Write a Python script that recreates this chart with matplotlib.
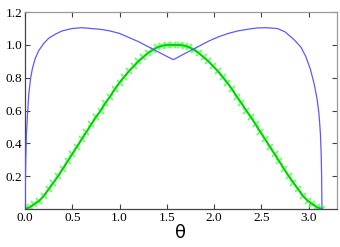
import matplotlib
matplotlib.use("Agg")
import matplotlib.pyplot as plt

# Blue curve
theta_blue = [0.0, 0.008, 0.015, 0.025, 0.04, 0.06, 0.08, 0.11, 0.145, 0.2, 0.25, 0.32, 0.39,
              0.5, 0.6, 0.7, 0.8, 0.9, 1.0, 1.1, 1.2, 1.3, 1.4, 1.5, 1.5708,
              1.65, 1.75, 1.85, 1.95, 2.05, 2.15, 2.25, 2.35, 2.45, 2.55, 2.67, 2.75,
              2.85, 2.92, 2.97, 3.02, 3.06, 3.09, 3.11, 3.125, 3.133, 3.138, 3.1416]
val_blue = [0.0, 0.30, 0.45, 0.56, 0.70, 0.80, 0.86, 0.92, 0.965, 1.01, 1.04, 1.065, 1.085,
            1.10, 1.105, 1.10, 1.095, 1.085, 1.07, 1.045, 1.02, 0.99, 0.96, 0.93, 0.91,
            0.935, 0.965, 0.995, 1.025, 1.05, 1.07, 1.085, 1.095, 1.103, 1.105, 1.10, 1.08,
            1.03, 0.985, 0.93, 0.85, 0.76, 0.67, 0.58, 0.46, 0.34, 0.2, 0.0]

# Green curve with markers
theta_green = [0.00, 0.05, 0.10, 0.15, 0.20, 0.25, 0.30, 0.35, 0.40, 0.45, 0.50, 0.55, 0.60,
               0.65, 0.70, 0.75, 0.80, 0.85, 0.90, 0.95, 1.00, 1.05, 1.10, 1.15, 1.20, 1.25,
               1.30, 1.35, 1.40, 1.45, 1.50, 1.5708,
               1.64, 1.69, 1.74, 1.79, 1.84, 1.89, 1.94, 1.99, 2.04, 2.09, 2.14, 2.19, 2.24,
               2.29, 2.34, 2.39, 2.44, 2.49, 2.54, 2.59, 2.64, 2.69, 2.74, 2.79, 2.84, 2.89,
               2.94, 2.99, 3.04, 3.09, 3.1416]
val_green = [0.00, 0.01, 0.03, 0.05, 0.08, 0.12, 0.16, 0.20, 0.245, 0.29, 0.335, 0.38, 0.425,
             0.47, 0.515, 0.56, 0.60, 0.645, 0.685, 0.73, 0.77, 0.805, 0.84, 0.87, 0.90, 0.925,
             0.95, 0.97, 0.985, 0.995, 1.00, 1.00,
             1.00, 0.995, 0.985, 0.97, 0.95, 0.925, 0.90, 0.87, 0.84, 0.805, 0.77, 0.73, 0.685,
             0.645, 0.60, 0.56, 0.515, 0.47, 0.425, 0.38, 0.335, 0.29, 0.245, 0.20, 0.16, 0.12,
             0.08, 0.05, 0.03, 0.01, 0.00]

xticks = [0.0, 0.5, 1.0, 1.5, 2.0, 2.5, 3.0]
xticklabels = ["0.0", "0.5", "1.0", "1.5", "2.0", "2.5", "3.0"]
yticks = [0.2, 0.4, 0.6, 0.8, 1.0, 1.2]
yticklabels = ["0.2", "0.4", "0.6", "0.8", "1.0", "1.2"]

fig = plt.figure(figsize=(3.4, 2.47), dpi=100)
ax = fig.add_axes([0.0735, 0.154, 0.9175, 0.797])

ax.plot(theta_green, val_green, color="#00cc00", lw=1.2, marker="x", ms=4.6,
        mec="#66ff66", mew=1.3, zorder=2)
ax.plot(theta_green, val_green, color="#00cc00", lw=1.2, zorder=2.5)
ax.plot(theta_blue, val_blue, color="#5a5aff", lw=0.9, zorder=3)

ax.set_xlim(0, 3.3)
ax.set_ylim(0, 1.2)
ax.set_xticks(xticks)
ax.set_xticklabels(xticklabels)
ax.set_yticks(yticks)
ax.set_yticklabels(yticklabels)

for lab in ax.get_xticklabels() + ax.get_yticklabels():
    lab.set_fontfamily("Liberation Serif")
    lab.set_fontsize(9.5)

ax.tick_params(direction="in", length=3.5, width=0.8, color="#444444",
               top=True, right=True, pad=2)
for side in ["left", "bottom"]:
    ax.spines[side].set_color("#444444")
for side in ["top", "right"]:
    ax.spines[side].set_color("#999999")
for s in ax.spines.values():
    s.set_linewidth(0.9)

ax.set_xlabel("θ", fontsize=13, family="DejaVu Sans", labelpad=0)

fig.savefig("out.png", dpi=100)
